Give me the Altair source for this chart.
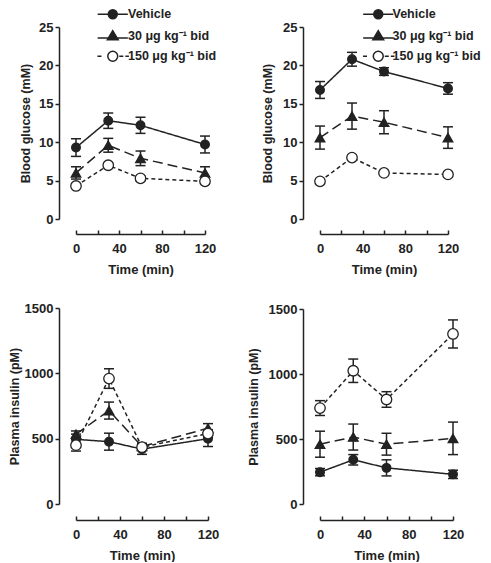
import altair as alt
import pandas as pd

FONT = "Liberation Sans"
INK = "#222222"

TIMES = [0, 30, 60, 120]
SERIES = ["Vehicle", "30 μg kg⁻¹ bid", "150 μg kg⁻¹ bid"]

# Top-left: blood glucose (mM)
gA_veh = [9.3, 12.8, 12.2, 9.7]
gA_veh_err = [1.15, 1.0, 1.05, 1.1]
gA_30 = [6.0, 9.6, 7.9, 6.0]
gA_30_err = [0.8, 0.9, 0.95, 0.8]
gA_150 = [4.3, 7.0, 5.3, 4.9]
gA_150_err = [0.3, 0.3, 0.3, 0.3]

# Top-right: blood glucose (mM)
gB_veh = [16.8, 20.8, 19.2, 17.0]
gB_veh_err = [1.1, 0.9, 0.5, 0.75]
gB_30 = [10.6, 13.4, 12.6, 10.6]
gB_30_err = [1.5, 1.7, 1.5, 1.4]
gB_150 = [4.9, 8.0, 6.0, 5.8]
gB_150_err = [0.3, 0.3, 0.3, 0.3]

# Bottom-left: plasma insulin (pM)
iA_veh = [495, 477, 420, 500]
iA_veh_err = [40, 65, 40, 60]
iA_30 = [534, 715, 440, 580]
iA_30_err = [25, 65, 25, 35]
iA_150 = [450, 960, 435, 539]
iA_150_err = [45, 75, 25, 30]

# Bottom-right: plasma insulin (pM)
iB_veh = [245, 340, 278, 228]
iB_veh_err = [28, 40, 62, 32]
iB_30 = [460, 515, 460, 505]
iB_30_err = [100, 100, 84, 125]
iB_150 = [738, 1025, 804, 1308]
iB_150_err = [57, 90, 60, 108]

SHAPES = ["circle", "triangle-up", "circle"]
FILLS = [INK, INK, "white"]
SIZES = [75, 110, 95]
DASHES = [[1, 0], [10, 5], [4, 3]]
LEGEND_PATHS = [
    "M-3.35,0L-1,0M1,0L3.35,0M-1,0A1,1 0 1,1 1,0A1,1 0 1,1 -1,0Z",
    "M-3.35,0.4L3.35,0.4M0,-1.25L-1.2,0.8L1.2,0.8Z",
    "M-3.4,0L-2.5,0M1.45,0L2.35,0M2.8,0L3.6,0M-1.1,0A1.1,1.1 0 1,1 1.1,0A1.1,1.1 0 1,1 -1.1,0Z",
]


def make_legend(lx, ly, loff):
    return alt.Legend(
        orient="none", legendX=lx, legendY=ly, title=None, padding=0,
        symbolSize=81, symbolStrokeColor=INK, symbolStrokeWidth=1.5,
        symbolOpacity=1, labelFont=FONT, labelFontSize=12.5,
        labelFontWeight="bold", labelColor=INK, labelOffset=loff,
        rowPadding=5, labelLimit=300,
    )


def panel(vals, errs, ymax, ystep, ytitle, W, H, xoff, ypad, legend_pos=None):
    rows = []
    for s, v, e in zip(SERIES, vals, errs):
        for t, vi, ei in zip(TIMES, v, e):
            rows.append({"series": s, "t": t, "v": vi, "lo": vi - ei, "hi": vi + ei})
    df = pd.DataFrame(rows)

    xscale = alt.Scale(domain=[0, 120], nice=False, zero=False)
    xaxis = alt.Axis(
        orient="top", offset=-(H + xoff), values=[0, 20, 40, 60, 80, 100, 120],
        labelExpr="datum.value % 40 == 0 ? datum.label : ''",
        tickSize=4, labelBaseline="top", labelPadding=-12, labelFlush=False,
        labelOverlap=False, labelFontSize=13, title="Time (min)", titleY=29,
        titleBaseline="top", titleFontSize=13, grid=False,
    )
    yscale = alt.Scale(domain=[0, ymax], nice=False, zero=True)
    yaxis = alt.Axis(
        offset=17, values=list(range(0, ymax + 1, ystep)), format="d", tickSize=4,
        labelPadding=2, labelFontSize=13, title=ytitle, titleFontSize=12.5,
        titlePadding=ypad, grid=False, labelFlush=False,
    )
    X = alt.X("t:Q", scale=xscale, axis=xaxis)
    base = alt.Chart(df)

    line = base.mark_line(color=INK, strokeWidth=1.5).encode(
        x=X,
        y=alt.Y("v:Q", scale=yscale, axis=yaxis),
        strokeDash=alt.StrokeDash("series:N", scale=alt.Scale(domain=SERIES, range=DASHES), legend=None),
    )
    rule = base.mark_rule(color=INK, strokeWidth=1.5).encode(
        x=X, y=alt.Y("lo:Q", scale=yscale, axis=yaxis), y2="hi:Q"
    )
    cap_lo = base.mark_tick(orient="horizontal", size=10, thickness=1.5, color=INK, opacity=1).encode(
        x=X, y=alt.Y("lo:Q", scale=yscale, axis=yaxis)
    )
    cap_hi = base.mark_tick(orient="horizontal", size=10, thickness=1.5, color=INK, opacity=1).encode(
        x=X, y=alt.Y("hi:Q", scale=yscale, axis=yaxis)
    )
    pts = base.mark_point(filled=True, opacity=1, stroke=INK, strokeWidth=1.3).encode(
        x=X,
        y=alt.Y("v:Q", scale=yscale, axis=yaxis),
        shape=alt.Shape("series:N", scale=alt.Scale(domain=SERIES, range=SHAPES), legend=None),
        fill=alt.Fill("series:N", scale=alt.Scale(domain=SERIES, range=FILLS), legend=None),
        size=alt.Size("series:N", scale=alt.Scale(domain=SERIES, range=SIZES), legend=None),
    )
    layers = [line, rule, cap_lo, cap_hi, pts]
    if legend_pos is not None:
        lx, ly, loff = legend_pos
        leg = alt.Chart(pd.DataFrame({"label": SERIES})).transform_filter("false").mark_point(
            filled=True, strokeWidth=1.5, opacity=1
        ).encode(
            shape=alt.Shape("label:N", scale=alt.Scale(domain=SERIES, range=LEGEND_PATHS),
                            legend=make_legend(lx, ly, loff)),
            fill=alt.Fill("label:N", scale=alt.Scale(domain=SERIES, range=FILLS),
                          legend=make_legend(lx, ly, loff)),
            stroke=alt.Stroke("label:N", scale=alt.Scale(domain=SERIES, range=[INK, INK, INK]),
                              legend=make_legend(lx, ly, loff)),
        )
        layers.append(leg)
    return alt.layer(*layers).resolve_scale(
        shape="independent", fill="independent", stroke="independent"
    ).properties(width=W, height=H)


tl = panel([gA_veh, gA_30, gA_150], [gA_veh_err, gA_30_err, gA_150_err], 25, 5,
           "Blood glucose (mM)", 129, 192, 15, 6.5, legend_pos=(30.5, -19, 9))
tr = panel([gB_veh, gB_30, gB_150], [gB_veh_err, gB_30_err, gB_150_err], 25, 5,
           "Blood glucose (mM)", 128, 192, 15, 8.5, legend_pos=(52, -19, 8))
bl = panel([iA_veh, iA_30, iA_150], [iA_veh_err, iA_30_err, iA_150_err], 1500, 500,
           "Plasma insulin (pM)", 132, 196, 16, 3)
br = panel([iB_veh, iB_30, iB_150], [iB_veh_err, iB_30_err, iB_150_err], 1500, 500,
           "Plasma insulin (pM)", 133, 195, 16, 8)

RES = dict(x="independent", y="independent", shape="independent", fill="independent",
           size="independent", strokeDash="independent", stroke="independent")

left = alt.vconcat(tl, bl, spacing=26).resolve_scale(**RES)
right = alt.vconcat(tr, br, spacing=27).resolve_scale(**RES)

chart = alt.hconcat(left, right, spacing=28).resolve_scale(**RES).properties(
    padding={"left": 0, "top": 0, "right": 0, "bottom": 0}
).configure_view(stroke=None).configure_axis(
    labelFont=FONT, titleFont=FONT, labelFontWeight="bold", titleFontWeight="bold",
    labelColor=INK, titleColor=INK, domainColor=INK, tickColor=INK,
    domainWidth=1.5, tickWidth=1.5,
)

chart.save("out.html", embed_options={"renderer": "svg", "actions": False})
